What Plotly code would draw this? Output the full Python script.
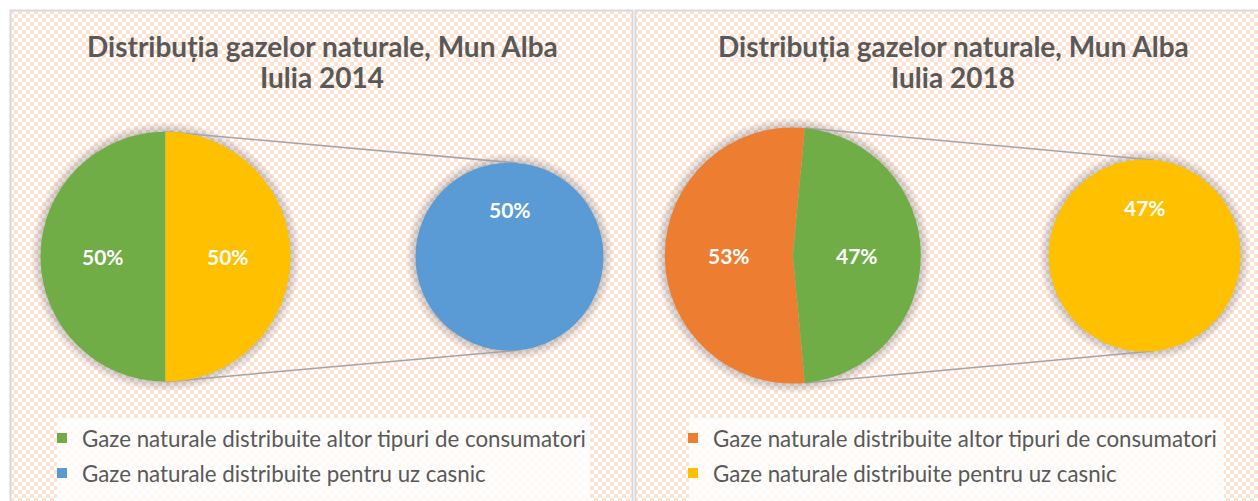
import base64
import math

import plotly.graph_objects as go

# ---- data -------------------------------------------------------------
years = ["2014", "2018"]
categories = [
    "Gaze naturale distribuite altor tipuri de consumatori",
    "Gaze naturale distribuite pentru uz casnic",
]
share_altor = [50, 53]     # % distributed to other consumer types
share_casnic = [50, 47]    # % distributed for household use
title_lines = ["Distribuția gazelor naturale, Mun Alba", "Iulia {}"]

# colours per panel: (altor, aggregated slice in main pie, casnic)
panel_colors = [
    ("#70AD47", "#FFC000", "#5B9BD5"),
    ("#ED7D31", "#70AD47", "#FFC000"),
]

# ---- layout geometry (pixels) ------------------------------------------
W, H = 1258, 501
FONT = "Lato"
TEXT_GREY = "#595959"
panels = [
    dict(x0=10, x1=633, main=(165.5, 256.7, 125), sec=(509.5, 256.7, 94),
         title_x=322, legend_x=42, box=(57, 590)),
    dict(x0=635, x1=1290, main=(792.8, 255.5, 128), sec=(1144.7, 255.5, 96),
         title_x=953, legend_x=673, box=(689, 1224)),
]


def px(x):
    return x / W


def py(y):
    return 1 - y / H


def polar(cx, cy, r, ang):
    """Point on a circle, angle in degrees clockwise from 12 o'clock."""
    a = math.radians(ang)
    return cx + r * math.sin(a), cy - r * math.cos(a)


def tangent_point(p, c, upper=True):
    """Tangent point on circle c=(cx, cy, r) of a line through external point p."""
    cx, cy, r = c
    dx, dy = p[0] - cx, p[1] - cy
    d = math.hypot(dx, dy)
    base = math.atan2(dy, dx)
    off = math.acos(r / d)
    pts = [(cx + r * math.cos(base + s * off), cy + r * math.sin(base + s * off)) for s in (1, -1)]
    pts.sort(key=lambda q: q[1])
    return pts[0] if upper else pts[1]


# ---- hatched panel background -----------------------------------------
peach = "#FBE2D3"
cells = [(0, 0), (2, 2), (4, 4), (6, 6), (6, 0), (4, 2), (2, 4), (0, 6)]
tile = "".join(f'<rect x="{a}" y="{b}" width="2" height="2" fill="{peach}"/>' for a, b in cells)
panel_rects = "".join(
    f'<rect x="{p["x0"]}" y="10" width="{min(p["x1"], W) - p["x0"]}" height="{H - 10}" fill="url(#hatch)"/>'
    for p in panels
)
svg = (
    f'<svg xmlns="http://www.w3.org/2000/svg" width="{W}" height="{H}" viewBox="0 0 {W} {H}" '
    f'preserveAspectRatio="none" shape-rendering="crispEdges"><defs>'
    f'<pattern id="hatch" width="8" height="8" patternUnits="userSpaceOnUse">'
    f'<rect width="8" height="8" fill="#FFFFFF"/>{tile}</pattern></defs>{panel_rects}</svg>'
)
bg_uri = "data:image/svg+xml;base64," + base64.b64encode(svg.encode()).decode()

fig = go.Figure()
shapes, annotations = [], []

for i, p in enumerate(panels):
    altor, casnic = share_altor[i], share_casnic[i]
    total = altor + casnic
    c_altor, c_other, c_casnic = panel_colors[i]
    mcx, mcy, mr = p["main"]
    scx, scy, sr = p["sec"]

    # main pie: the "altor" slice sits on the left, the split is centred on the right side.
    # angles below are clockwise from 12 o'clock; the top split point is at `split`
    span_altor = altor / total * 360
    split = (span_altor - 180) / 2

    # soft drop shadow behind both pies
    for cx, cy, r in (p["main"], p["sec"]):
        for k in range(1, 9):
            rr = r + k * 1.2
            shapes.append(dict(type="circle", xref="paper", yref="paper", layer="below",
                               x0=px(cx - rr), x1=px(cx + rr), y0=py(cy + rr), y1=py(cy - rr),
                               fillcolor="rgba(0,0,0,0.024)", line=dict(width=0)))

    # plotly's counterclockwise pies place the first slice clockwise of `rotation`
    fig.add_trace(go.Pie(
        values=[altor, casnic], labels=[categories[0], "Altele"],
        marker=dict(colors=[c_altor, c_other], line=dict(width=0)),
        sort=False, direction="counterclockwise", rotation=split - span_altor,
        textinfo="none", hoverinfo="label+percent", showlegend=False,
        domain=dict(x=[px(mcx - mr), px(mcx + mr)], y=[py(mcy + mr), py(mcy - mr)]),
    ))
    fig.add_trace(go.Pie(
        values=[casnic], labels=[categories[1]],
        marker=dict(colors=[c_casnic], line=dict(width=0)),
        sort=False, textinfo="none", hoverinfo="label", showlegend=False,
        domain=dict(x=[px(scx - sr), px(scx + sr)], y=[py(scy + sr), py(scy - sr)]),
    ))

    # percentage labels at half radius along each slice's mid angle
    mid_altor = split - span_altor / 2
    mid_other = split - span_altor - (360 - span_altor) / 2
    label_pts = [
        (polar(mcx, mcy, mr * 0.5, mid_altor), altor),
        (polar(mcx, mcy, mr * 0.5, mid_other), casnic),
        (polar(scx, scy, sr * 0.5, 0), casnic),
    ]
    for (lx, ly), v in label_pts:
        annotations.append(dict(x=px(lx), y=py(ly), xref="paper", yref="paper",
                                text=f"{v / total * 100:.0f}%", showarrow=False,
                                font=dict(family=FONT, size=21, color="white", weight="bold"),
                                xanchor="center", yanchor="middle"))

    # connector lines from the split points of the main pie to the secondary pie
    top_split = polar(mcx, mcy, mr, split)
    bot_split = polar(mcx, mcy, mr, split - span_altor)
    for start, upper in ((top_split, True), (bot_split, False)):
        end = tangent_point(start, p["sec"], upper)
        shapes.append(dict(type="line", xref="paper", yref="paper", layer="below",
                           x0=px(start[0]), y0=py(start[1]), x1=px(end[0]), y1=py(end[1]),
                           line=dict(color="#A5A5A5", width=1.5)))

    # panel frame and legend backdrop
    shapes.append(dict(type="rect", xref="paper", yref="paper", layer="below",
                       x0=px(p["x0"] + 0.5), x1=px(p["x1"] - 0.5), y0=-0.1, y1=py(10.5),
                       line=dict(color="#D9D9D9", width=2), fillcolor="rgba(0,0,0,0)"))
    bx0, bx1 = p["box"]
    shapes.append(dict(type="rect", xref="paper", yref="paper", layer="below",
                       x0=px(bx0), x1=px(bx1), y0=-0.05, y1=py(418),
                       line=dict(width=0), fillcolor="rgba(255,255,255,0.78)"))

    # two-line title
    for line_text, line_y in zip(title_lines, (46, 77)):
        annotations.append(dict(x=px(p["title_x"]), y=py(line_y), xref="paper", yref="paper",
                                text=line_text.format(years[i]), showarrow=False,
                                font=dict(family=FONT, size=28, color=TEXT_GREY, weight="bold"),
                                xanchor="center", yanchor="middle"))

    # legend entries
    legend_name = "legend" if i == 0 else "legend2"
    for k, (name, col) in enumerate(zip(categories, (c_altor, c_casnic))):
        fig.add_trace(go.Scatter(
            x=[None], y=[None], mode="markers", name=name,
            marker=dict(symbol="square", size=10, color=col),
            legend=legend_name, legendgroup=f"{i}-{k}", showlegend=True,
        ))

legend_style = dict(
    font=dict(family=FONT, size=22.3, color=TEXT_GREY),
    bgcolor="rgba(0,0,0,0)", borderwidth=0, orientation="v",
    tracegroupgap=3, traceorder="grouped", itemclick=False,
    xanchor="left", yanchor="top", y=py(417),
)

fig.update_layout(
    width=W, height=H,
    margin=dict(l=0, r=0, t=0, b=0),
    paper_bgcolor="white", plot_bgcolor="rgba(0,0,0,0)",
    xaxis=dict(visible=False), yaxis=dict(visible=False),
    shapes=shapes, annotations=annotations,
    images=[dict(source=bg_uri, xref="paper", yref="paper", x=0, y=1, sizex=1, sizey=1,
                 xanchor="left", yanchor="top", sizing="stretch", layer="below")],
    legend=dict(legend_style, x=px(panels[0]["legend_x"])),
    legend2=dict(legend_style, x=px(panels[1]["legend_x"])),
    showlegend=True,
)

fig.write_html("out.html")
